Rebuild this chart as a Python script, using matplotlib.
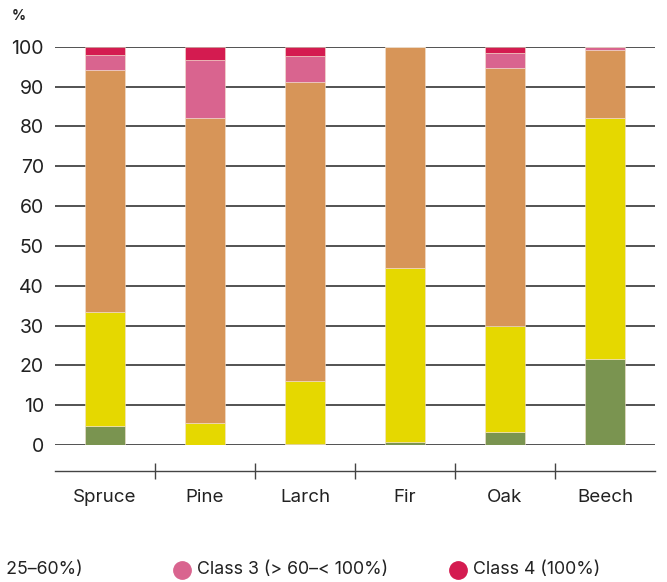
import numpy as np
import matplotlib
matplotlib.use("Agg")
import matplotlib.pyplot as plt

plt.rcParams['font.family'] = ['Inter', 'DejaVu Sans']

# Defoliation shares per tree species (%)
species = ["Spruce", "Pine", "Larch", "Fir", "Oak", "Beech"]
class0 = [4.8, 0.0, 0.3, 0.8, 3.2, 21.5]
class1 = [28.7, 5.5, 15.8, 43.7, 26.7, 60.6]
class2 = [60.6, 76.5, 75.1, 55.5, 64.7, 17.1]
class3 = [3.8, 14.6, 6.5, 0.0, 3.9, 0.8]
class4 = [2.1, 3.4, 2.3, 0.0, 1.5, 0.0]

class_labels = ["Class 0 (0–10%)", "Class 1 (> 10–25%)", "Class 2 (> 25–60%)",
                "Class 3 (> 60–< 100%)", "Class 4 (100%)"]
colors = ["#7a9450", "#e5d800", "#d79558", "#d9648f", "#d41b50"]
yticks = [0, 10, 20, 30, 40, 50, 60, 70, 80, 90, 100]

fig = plt.figure(figsize=(6.67, 5.82), dpi=100)
W, H = 667, 582
ax = fig.add_axes([55 / W, 1 - 445 / H, 600 / W, (445 - 46.7) / H])

x = np.arange(len(species))
bottom = np.zeros(len(species))
for vals, c in zip([class0, class1, class2, class3, class4], colors):
    vals = np.array(vals)
    ax.bar(x, vals, bottom=bottom, width=0.4, color=c, edgecolor="#f3e2d0",
           linewidth=0.4, zorder=3)
    bottom += vals

ax.set_xlim(-0.5, len(species) - 0.5)
ax.set_ylim(0, 100)
ax.set_yticks(yticks)
ax.tick_params(axis="y", length=0, pad=8, labelsize=14, labelcolor="#222222")
ax.yaxis.grid(True, color="#444444", linewidth=1.3, zorder=0)
ax.set_axisbelow(True)

for s in ["top", "right", "left"]:
    ax.spines[s].set_visible(False)

# category axis sits below the zero line
ax.spines["bottom"].set_position(("outward", 19))
ax.spines["bottom"].set_color("#444444")
ax.spines["bottom"].set_linewidth(1.0)
ax.set_xticks(x[:-1] + 0.5)
ax.set_xticklabels([])
ax.set_xticks(x, minor=True)
ax.set_xticklabels(species, minor=True)
ax.tick_params(axis="x", which="major", direction="inout", length=11.5,
               width=1.0, color="#444444")
ax.tick_params(axis="x", which="minor", length=0, pad=13, labelsize=13.5,
               labelcolor="#222222")

fig.text(12 / W, 1 - 16 / H, "%", fontsize=10, fontweight="bold",
         color="#222222", va="center")

# legend row along the bottom edge, running off the left side
leg_y = 1 - 570 / H
renderer = fig.canvas.get_renderer()


def legend_entry(mx, lab, c):
    fig.lines.append(plt.Line2D([mx / W], [leg_y], marker="o", markersize=12.5,
                                color=c, linestyle="none",
                                transform=fig.transFigure))
    return fig.text((mx + 15) / W, leg_y, lab, fontsize=12.8, color="#222222",
                    va="center", ha="left")


legend_entry(182, class_labels[3], colors[3])
legend_entry(458, class_labels[4], colors[4])

# entries to the left end where the next one begins
right_end = 83
for i in [2, 1, 0]:
    t = fig.text(0, leg_y, class_labels[i], fontsize=12.8, va="center")
    w = t.get_window_extent(renderer).width
    t.remove()
    start = right_end - w
    legend_entry(start - 15, class_labels[i], colors[i])
    right_end = start - 15 - 97

fig.savefig("out.png", dpi=100)
